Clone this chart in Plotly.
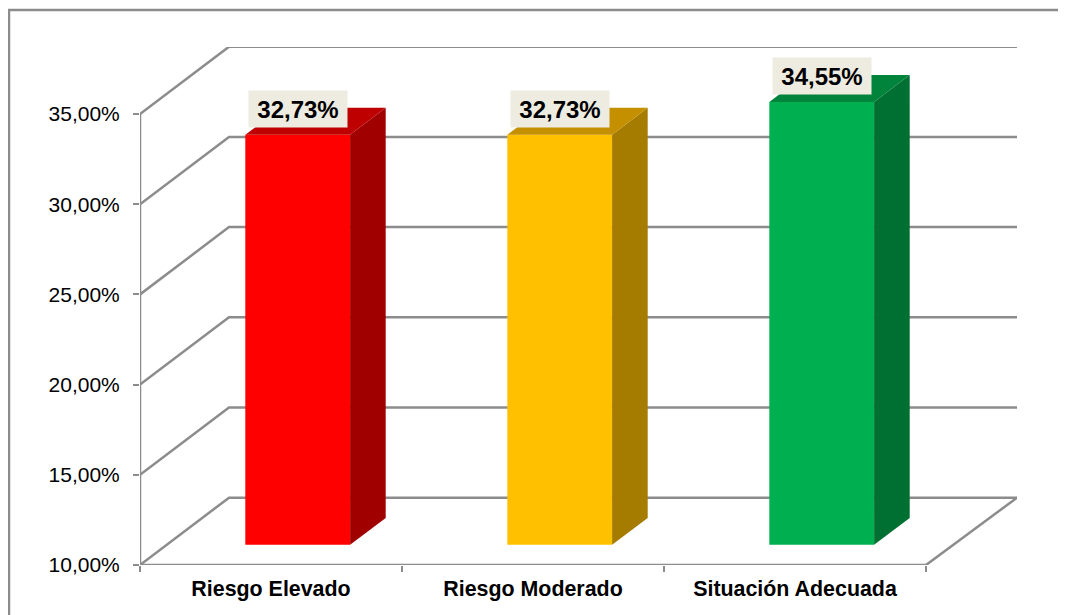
import plotly.graph_objects as go

categories = ["Riesgo Elevado", "Riesgo Moderado", "Situación Adecuada"]
values = [32.73, 32.73, 34.55]
value_labels = ["32,73%", "32,73%", "34,55%"]
y_ticks = [10, 15, 20, 25, 30, 35]
y_tick_labels = ["10,00%", "15,00%", "20,00%", "25,00%", "30,00%", "35,00%"]
front_colors = ["#FF0000", "#FFC000", "#00B050"]
side_colors = ["#A00000", "#A67C00", "#006F32"]
top_colors = ["#BF0000", "#C49000", "#00843C"]

GREY = "#8C8C8C"
FONT = "Liberation Sans, Arial, sans-serif"
PAGE = 8                # the page's own body margin
W, H = 1066 - PAGE, 615 - PAGE
L, R, T, B = 140 - PAGE, 49, 47 - PAGE, 50
PX_X = 262.0            # pixels per category
PX_Y = 18.04            # pixels per percentage point
DX = 89 / PX_X          # wall depth in x units
DY = 67.3 / PX_Y        # wall depth in y units
BASE = 10
BAR_W = 0.40
BAR_START = 0.30        # bar front plane, share of depth
BAR_DEPTH = 0.40        # bar depth, share of depth
n = len(categories)
x_rng = [-0.5, -0.5 + (W - L - R) / PX_X]
y_rng = [BASE, BASE + (H - T - B) / PX_Y]

fig = go.Figure()


def line(xs, ys, width=2.5):
    fig.add_trace(go.Scatter(x=xs, y=ys, mode="lines", hoverinfo="skip", showlegend=False,
                             cliponaxis=False, line=dict(color=GREY, width=width)))


# walls and floor
for v in y_ticks:
    line([-0.5, -0.5 + DX, x_rng[1]], [v, v + DY, v + DY])
line([x_rng[1], n - 0.5], [BASE + DY, BASE])
line([-0.5, n - 0.5], [BASE, BASE])
line([-0.5, -0.5], [BASE, y_ticks[-1]])

# 3D bars
b0 = BASE + BAR_START * DY
sx = BAR_START * DX
dx = BAR_DEPTH * DX
dy = BAR_DEPTH * DY
centres = [i + sx for i in range(n)]
fig.add_trace(go.Bar(x=centres, y=[v - BASE for v in values], base=[b0] * n, width=BAR_W,
                     marker=dict(color=front_colors, line=dict(width=0)), xaxis="x2",
                     showlegend=False, hoverinfo="skip"))
for c, v, sc, tc in zip(centres, values, side_colors, top_colors):
    top = v + BAR_START * DY
    xr = c + BAR_W / 2
    xl = c - BAR_W / 2
    fig.add_trace(go.Scatter(x=[xr, xr + dx, xr + dx, xr, xr], y=[b0, b0 + dy, top + dy, top, b0],
                             mode="lines", fill="toself", fillcolor=sc, line=dict(width=0),
                             xaxis="x2", showlegend=False, hoverinfo="skip"))
    fig.add_trace(go.Scatter(x=[xl, xl + dx, xr + dx, xr, xl], y=[top, top + dy, top + dy, top, top],
                             mode="lines", fill="toself", fillcolor=tc, line=dict(width=0),
                             xaxis="x2", showlegend=False, hoverinfo="skip"))

annotations = [
    dict(x=c, y=v + BAR_START * DY, xref="x2", yref="y", text=f"<b>{t}</b>", showarrow=False,
         yshift=26, xshift=0, bgcolor="#EEECE1", borderpad=0, width=98, height=36,
         font=dict(family=FONT, size=24, color="#000000"))
    for c, v, t in zip(centres, values, value_labels)
]

axis_x = dict(range=x_rng, tickvals=list(range(n)), ticktext=[f"<b>{c}</b>" for c in categories],
              ticks="", showgrid=False, zeroline=False, showline=False, ticklabelstandoff=9,
              tickfont=dict(family=FONT, size=21.4, color="#000000"),
              minor=dict(tickvals=[i - 0.5 for i in range(n + 1)], ticks="outside", ticklen=6,
                         tickwidth=2, tickcolor=GREY, showgrid=False))

PW, PH = W - L - R, H - T - B
fig.update_layout(
    width=W, height=H, margin=dict(l=L, r=R, t=T, b=B, autoexpand=False),
    paper_bgcolor="#FFFFFF", plot_bgcolor="rgba(0,0,0,0)", showlegend=False, barmode="overlay",
    xaxis=axis_x,
    xaxis2=dict(range=x_rng, overlaying="x", visible=False),
    yaxis=dict(range=y_rng, tickvals=y_ticks, ticktext=y_tick_labels, ticks="outside", ticklen=6,
               tickwidth=2, tickcolor=GREY, showgrid=False, zeroline=False, showline=False,
               ticklabelstandoff=9,
               tickfont=dict(family=FONT, size=21, color="#000000")),
    annotations=annotations,
    shapes=[dict(type="rect", xref="paper", yref="paper",
                 x0=(1 - L) / PW, x1=(1100 - L) / PW,
                 y0=(H - B - 640) / PH, y1=(H - B - 2) / PH,
                 line=dict(color=GREY, width=2.5), layer="below")],
)
fig.write_html("out.html")
